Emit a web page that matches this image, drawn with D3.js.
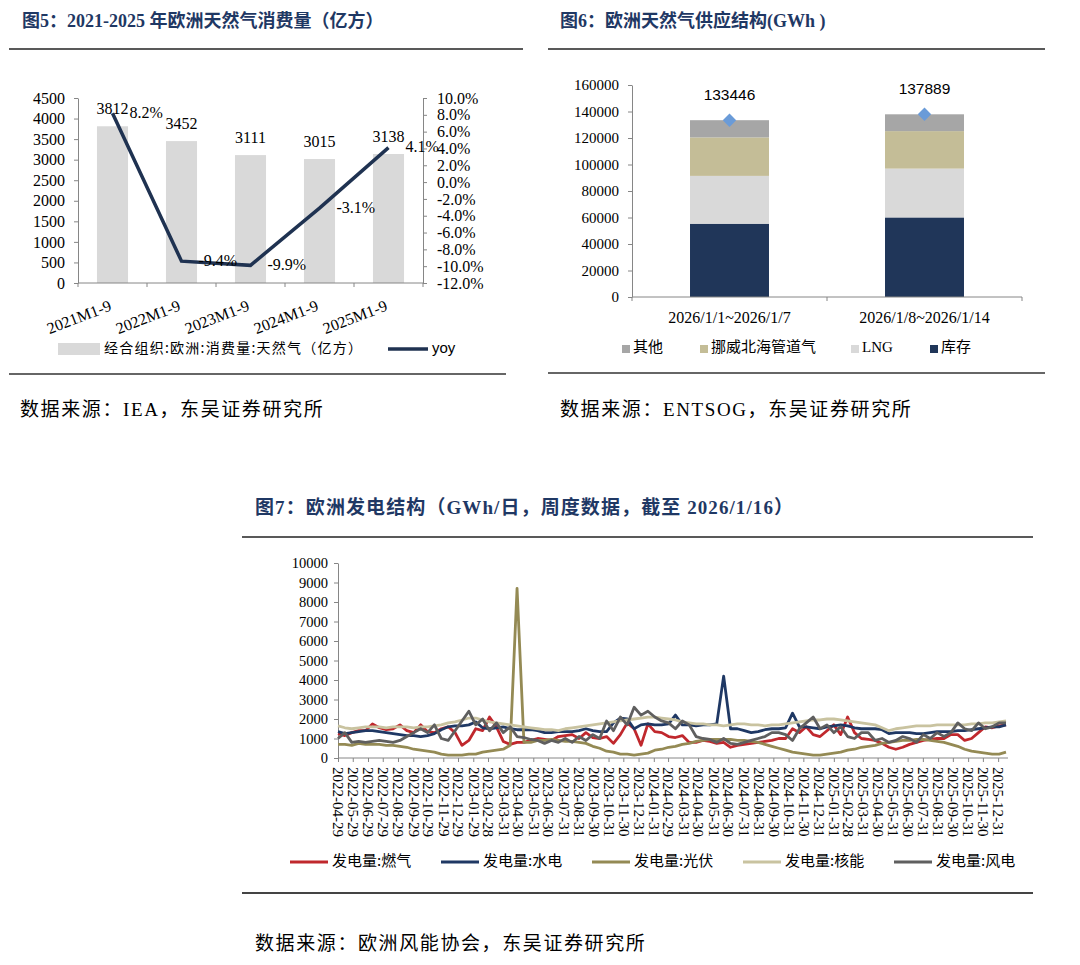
<!DOCTYPE html>
<html>
<head>
<meta charset="utf-8">
<script src="https://cdn.jsdelivr.net/npm/d3@7"></script>
<style>
  body { margin: 0; background: #fff; }
  text { fill: #000; }
</style>
</head>
<body>
<div id="chart"></div>
<script>
// ---------- data: fig 5 ----------
const years = ["2021M1-9", "2022M1-9", "2023M1-9", "2024M1-9", "2025M1-9"];
const consumption = [3812, 3452, 3111, 3015, 3138];
const yoy = [8.2, -9.4, -9.9, -3.1, 4.1];
const leftTicks = [0, 500, 1000, 1500, 2000, 2500, 3000, 3500, 4000, 4500];
const rightTicks = [-12, -10, -8, -6, -4, -2, 0, 2, 4, 6, 8, 10];

// ---------- data: fig 6 ----------
const weeks = ["2026/1/1~2026/1/7", "2026/1/8~2026/1/14"];
const storage = [55300, 60050];
const lng = [36100, 36850];
const norway = [29050, 28300];
const others = [12996, 12689];
const supplyTotal = [133446, 137889];
const supplyTicks = [0, 20000, 40000, 60000, 80000, 100000, 120000, 140000, 160000];

// ---------- data: fig 7 (bi-weekly readings from 2022-04-29 to 2026-01-16) ----------
const genStart = "2022-04-29";
const genEnd = "2026-01-16";
const gas = [1250,1150,1300,1400,1400,1750,1550,1450,1500,1700,1400,1300,1700,1350,1300,1500,1600,1300,650,900,
  1500,1400,2100,1600,850,700,800,800,900,1000,950,900,1100,1150,1200,1000,1300,1050,1000,1100,
  750,1200,1800,1500,650,1750,1350,1300,1100,1050,1150,800,800,900,850,750,800,550,650,700,
  750,800,850,900,1000,1000,1500,1300,1600,1200,1100,1400,1700,1200,2100,1300,1000,950,900,750,
  550,450,550,700,800,900,950,1000,1000,1200,1200,900,1000,1300,1600,1550,1650,1700];
const hydro = [1350,1250,1300,1350,1400,1400,1350,1300,1250,1200,1150,1150,1100,1150,1250,1450,1600,1650,1650,1700,
  1850,1550,1500,1550,1600,1500,1450,1450,1450,1400,1300,1300,1350,1350,1350,1400,1500,1400,1350,1350,
  1800,2050,2000,1500,1700,1750,1700,1700,1750,2200,1700,1700,1650,1700,1700,1750,4200,1500,1500,1400,
  1300,1350,1450,1500,1500,1550,2300,1600,1600,1550,1500,1600,1650,1700,1650,1550,1500,1500,1500,1450,
  1250,1300,1300,1300,1250,1250,1300,1350,1350,1350,1400,1400,1450,1500,1550,1600,1600,1700];
const solar = [700,700,650,750,700,700,700,650,650,600,550,450,400,350,300,200,150,150,150,200,
  200,300,350,400,450,650,8700,800,800,900,900,950,900,850,850,800,750,600,500,350,
  300,200,200,150,200,250,400,450,550,600,700,750,850,900,950,950,950,950,900,900,
  850,800,700,600,500,400,300,250,200,150,150,200,250,300,400,450,550,600,650,750,
  800,850,900,900,950,950,900,850,800,700,600,450,350,300,250,200,200,300];
const nuclear = [1650,1550,1500,1550,1600,1600,1600,1550,1600,1600,1600,1550,1600,1600,1650,1700,1800,1850,1950,2050,
  2050,1950,1850,1800,1750,1700,1650,1600,1550,1500,1450,1450,1400,1500,1550,1600,1650,1700,1750,1800,
  1850,1900,1950,2000,2050,2100,2100,2050,2000,1950,1850,1800,1750,1750,1700,1700,1650,1700,1750,1750,
  1700,1700,1650,1700,1700,1750,1800,1850,1900,1950,1950,2000,2000,1950,1900,1850,1800,1750,1700,1550,
  1400,1500,1550,1600,1650,1650,1650,1700,1700,1700,1700,1700,1750,1750,1800,1800,1850,1900];
const wind = [1000,1300,800,850,800,850,900,850,800,900,1100,1300,1500,1300,1700,1000,900,1400,1900,2400,
  1700,2000,1400,1800,1300,1600,1100,1050,950,900,750,900,800,1000,800,1100,900,1200,1000,1900,
  1400,2100,1700,2600,2200,2400,2100,1900,1800,1500,1900,1700,1100,1000,950,800,1000,750,700,800,
  900,1000,1100,1300,1300,1200,900,1500,1800,2100,1500,1700,1300,1600,1100,1000,1300,1300,900,1000,
  800,900,1100,1000,800,1200,1000,1300,1100,1300,1800,1500,1400,1800,1500,1600,1800,1800];
const genTicks = [0, 1000, 2000, 3000, 4000, 5000, 6000, 7000, 8000, 9000, 10000];
const monthLabels = ["2022-04-29","2022-05-29","2022-06-29","2022-07-29","2022-08-29","2022-09-29","2022-10-29",
  "2022-11-29","2022-12-29","2023-01-29","2023-02-28","2023-03-31","2023-04-30","2023-05-31","2023-06-30",
  "2023-07-31","2023-08-31","2023-09-30","2023-10-31","2023-11-30","2023-12-31","2024-01-31","2024-02-29",
  "2024-03-31","2024-04-30","2024-05-31","2024-06-30","2024-07-31","2024-08-31","2024-09-30","2024-10-31",
  "2024-11-30","2024-12-31","2025-01-31","2025-02-28","2025-03-31","2025-04-30","2025-05-31","2025-06-30",
  "2025-07-31","2025-08-31","2025-09-30","2025-10-31","2025-11-30","2025-12-31"];

const SERIF = "'Liberation Serif', 'Times New Roman', 'Noto Sans CJK SC', serif";
const SANS = "'Liberation Sans', Arial, 'Noto Sans CJK SC', sans-serif";
const CJK = "'Noto Sans CJK SC', sans-serif";
const navy = "#1f3864";
const axisGrey = "#868686";
const plain = d3.format("d");

const svg = d3.select("#chart").append("svg")
  .attr("width", 1080).attr("height", 965);

function title(x, y, txt, size, len) {
  const t = svg.append("text").attr("x", x).attr("y", y)
    .style("font-family", SERIF).style("font-weight", "bold")
    .style("font-size", size).style("fill", navy).text(txt);
  if (len) t.attr("textLength", len).attr("lengthAdjust", "spacing");
}
function rule(x1, x2, y, w, c) {
  svg.append("line").attr("x1", x1).attr("x2", x2).attr("y1", y).attr("y2", y)
    .attr("stroke", c).attr("stroke-width", w);
}
function source(x, y, txt) {
  svg.append("text").attr("x", x).attr("y", y)
    .style("font-family", SERIF).style("font-size", "19px")
    .style("letter-spacing", "1.6px").text(txt);
}
function styleAxis(g, size) {
  g.select(".domain").attr("stroke", axisGrey);
  g.selectAll(".tick line").attr("stroke", axisGrey);
  g.selectAll(".tick text").style("font-family", SERIF).style("font-size", size).style("fill", "#000");
}

// ================= Fig 5 =================
title(22, 27, "图5：2021-2025 年欧洲天然气消费量（亿方）", "18px");
rule(9, 523, 49, 1.5, "#222");

const x5 = d3.scaleBand().domain(years).range([78, 423]).paddingInner(0.55).paddingOuter(0.275);
const yL = d3.scaleLinear().domain([0, 4500]).range([283, 98]);
const yR = d3.scaleLinear().domain([-12, 10]).range([283, 98]);

svg.append("g").selectAll("rect").data(years).join("rect")
  .attr("x", d => x5(d)).attr("width", x5.bandwidth())
  .attr("y", (d, i) => yL(consumption[i]))
  .attr("height", (d, i) => yL(0) - yL(consumption[i]))
  .attr("fill", "#d9d9d9");

const gL = svg.append("g").attr("transform", "translate(78,0)")
  .call(d3.axisLeft(yL).tickValues(leftTicks).tickFormat(plain).tickSize(4).tickSizeOuter(0).tickPadding(9));
styleAxis(gL, "16px");
const gR = svg.append("g").attr("transform", "translate(423,0)")
  .call(d3.axisRight(yR).tickValues(rightTicks).tickSize(4).tickSizeOuter(0).tickPadding(10)
    .tickFormat(d => d.toFixed(1) + "%"));
styleAxis(gR, "16px");

// category axis
svg.append("line").attr("x1", 78).attr("x2", 423).attr("y1", 283).attr("y2", 283).attr("stroke", axisGrey);
svg.append("g").selectAll("line").data(d3.range(years.length + 1)).join("line")
  .attr("x1", i => 78 + i * x5.step()).attr("x2", i => 78 + i * x5.step())
  .attr("y1", 283).attr("y2", 287).attr("stroke", axisGrey);
svg.append("g").selectAll("text").data(years).join("text")
  .attr("transform", d => `translate(${x5(d) + x5.bandwidth() / 2},${310}) rotate(-21)`)
  .attr("text-anchor", "end")
  .style("font-family", SERIF).style("font-size", "16px").text(d => d);

// bar labels
svg.append("g").selectAll("text").data(years).join("text")
  .attr("x", d => x5(d) + x5.bandwidth() / 2)
  .attr("y", (d, i) => yL(consumption[i]) - 12)
  .attr("text-anchor", "middle")
  .style("font-family", SERIF).style("font-size", "16px")
  .text((d, i) => consumption[i]);

// yoy line
const line5 = d3.line().x((d, i) => x5(years[i]) + x5.bandwidth() / 2).y(d => yR(d));
svg.append("path").datum(yoy).attr("d", line5)
  .attr("fill", "none").attr("stroke", "#1f3251").attr("stroke-width", 3.5);
svg.append("g").selectAll("text").data(yoy).join("text")
  .attr("x", (d, i) => x5(years[i]) + x5.bandwidth() / 2 + 17)
  .attr("y", d => yR(d) + 1)
  .attr("dominant-baseline", "middle")
  .style("font-family", SERIF).style("font-size", "16px")
  .text(d => d.toFixed(1) + "%");

// legend
svg.append("rect").attr("x", 58).attr("y", 343).attr("width", 42).attr("height", 12).attr("fill", "#d9d9d9");
svg.append("text").attr("x", 104).attr("y", 349).attr("dominant-baseline", "middle")
  .attr("textLength", 258).attr("lengthAdjust", "spacing")
  .style("font-family", CJK).style("font-size", "14px").text("经合组织:欧洲:消费量:天然气（亿方）");
svg.append("line").attr("x1", 388).attr("x2", 428).attr("y1", 349).attr("y2", 349)
  .attr("stroke", "#1f3251").attr("stroke-width", 3.5);
svg.append("text").attr("x", 432).attr("y", 349).attr("dominant-baseline", "middle")
  .style("font-family", SANS).style("font-size", "15px").text("yoy");

rule(9, 506, 374, 2, "#666");
source(20, 416, "数据来源：IEA，东吴证券研究所");

// ================= Fig 6 =================
title(560, 27, "图6：欧洲天然气供应结构(GWh )", "18px");
rule(548, 1045, 49, 1.5, "#222");

const keys6 = ["库存", "LNG", "挪威北海管道气", "其他"];
const colors6 = {"库存": "#203659", "LNG": "#d9d9d9", "挪威北海管道气": "#c4bd97", "其他": "#a6a6a6"};
const table6 = weeks.map((w, i) => ({week: w, "库存": storage[i], "LNG": lng[i], "挪威北海管道气": norway[i], "其他": others[i]}));
const stacked = d3.stack().keys(keys6)(table6);

const x6 = d3.scaleBand().domain(weeks).range([632, 1022]).paddingInner(0.595).paddingOuter(0.2975);
const y6 = d3.scaleLinear().domain([0, 160000]).range([297, 85]);

svg.append("g").selectAll("g").data(stacked).join("g")
  .attr("fill", d => colors6[d.key])
  .selectAll("rect").data(d => d).join("rect")
  .attr("x", d => x6(d.data.week)).attr("width", x6.bandwidth())
  .attr("y", d => y6(d[1])).attr("height", d => y6(d[0]) - y6(d[1]));

const g6 = svg.append("g").attr("transform", "translate(632,0)")
  .call(d3.axisLeft(y6).tickValues(supplyTicks).tickFormat(plain).tickSize(4).tickSizeOuter(0).tickPadding(9));
styleAxis(g6, "15px");
svg.append("line").attr("x1", 632).attr("x2", 1022).attr("y1", 297).attr("y2", 297).attr("stroke", axisGrey);
svg.append("g").selectAll("line").data(d3.range(weeks.length + 1)).join("line")
  .attr("x1", i => 632 + i * x6.step()).attr("x2", i => 632 + i * x6.step())
  .attr("y1", 297).attr("y2", 301).attr("stroke", axisGrey);
svg.append("g").selectAll("text").data(weeks).join("text")
  .attr("x", d => x6(d) + x6.bandwidth() / 2).attr("y", 323)
  .attr("text-anchor", "middle")
  .style("font-family", SERIF).style("font-size", "16px").text(d => d);

svg.append("g").selectAll("path").data(weeks).join("path")
  .attr("d", d3.symbol().type(d3.symbolSquare).size(90))
  .attr("transform", (d, i) => `translate(${x6(d) + x6.bandwidth() / 2},${y6(supplyTotal[i])}) rotate(45)`)
  .attr("fill", "#6a9bd8");
svg.append("g").selectAll("text").data(weeks).join("text")
  .attr("x", d => x6(d) + x6.bandwidth() / 2)
  .attr("y", (d, i) => y6(supplyTotal[i]) - 20)
  .attr("text-anchor", "middle")
  .style("font-family", SANS).style("font-size", "15.5px")
  .text((d, i) => supplyTotal[i]);

const legend6 = [["其他", 622], ["挪威北海管道气", 700], ["LNG", 851], ["库存", 930]];
legend6.forEach(([k, lx]) => {
  svg.append("rect").attr("x", lx).attr("y", 345).attr("width", 8).attr("height", 8).attr("fill", colors6[k]);
  svg.append("text").attr("x", lx + 11).attr("y", 349).attr("dominant-baseline", "middle")
    .style("font-family", SERIF).style("font-size", "15px").text(k);
});

rule(548, 1045, 373, 2, "#666");
source(560, 416, "数据来源：ENTSOG，东吴证券研究所");

// ================= Fig 7 =================
title(255, 514, "图7：欧洲发电结构（GWh/日，周度数据，截至 2026/1/16）", "19px", 538);
rule(242, 1033, 537, 1.5, "#222");

const parse = d3.timeParse("%Y-%m-%d");
const dates = gas.map((d, i) => d3.timeDay.offset(parse(genStart), 14 * i));
const x7 = d3.scaleTime().domain([parse(genStart), parse(genEnd)]).range([338, 1006]);
const y7 = d3.scaleLinear().domain([0, 10000]).range([758, 563]);

const g7y = svg.append("g").attr("transform", "translate(338,0)")
  .call(d3.axisLeft(y7).tickValues(genTicks).tickFormat(plain).tickSize(4).tickSizeOuter(0).tickPadding(6));
styleAxis(g7y, "14.5px");

const g7x = svg.append("g").attr("transform", "translate(0,758)")
  .call(d3.axisBottom(x7).tickValues(monthLabels.map(parse)).tickSize(4).tickSizeOuter(0)
    .tickFormat(d3.timeFormat("%Y-%m-%d")));
g7x.select(".domain").attr("stroke", axisGrey).attr("d", "M338,0H1008");
g7x.selectAll(".tick line").attr("stroke", axisGrey);
g7x.selectAll(".tick text")
  .attr("transform", "rotate(90)").attr("x", 9).attr("y", 0).attr("dy", "0.35em")
  .attr("text-anchor", "start")
  .style("font-family", SERIF).style("font-size", "15px").style("fill", "#000");

const series7 = [
  {name: "发电量:燃气", values: gas, color: "#c0282d"},
  {name: "发电量:水电", values: hydro, color: "#1f3864"},
  {name: "发电量:光伏", values: solar, color: "#948a54"},
  {name: "发电量:核能", values: nuclear, color: "#c9c3a0"},
  {name: "发电量:风电", values: wind, color: "#5f5f5f"}
];
const line7 = d3.line().x((d, i) => x7(dates[i])).y(d => y7(d));
svg.append("g").selectAll("path").data(series7).join("path")
  .attr("d", d => line7(d.values))
  .attr("fill", "none").attr("stroke", d => d.color).attr("stroke-width", 2.8)
  .attr("stroke-linejoin", "round");

series7.forEach((s, i) => {
  const lx = 290 + i * 151;
  svg.append("line").attr("x1", lx).attr("x2", lx + 38).attr("y1", 862).attr("y2", 862)
    .attr("stroke", s.color).attr("stroke-width", 3);
  svg.append("text").attr("x", lx + 42).attr("y", 862).attr("dominant-baseline", "middle")
    .style("font-family", CJK).style("font-size", "15px").text(s.name);
});

rule(242, 1033, 893, 2, "#444");
source(255, 950, "数据来源：欧洲风能协会，东吴证券研究所");
</script>
</body>
</html>
